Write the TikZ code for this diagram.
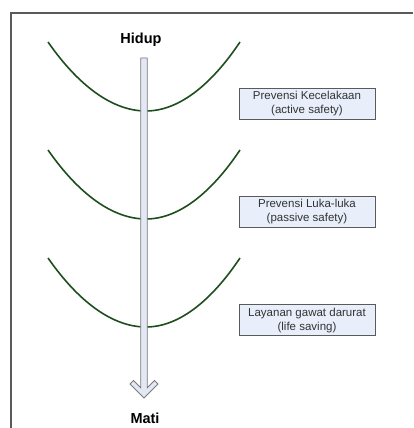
\documentclass[tikz,border=0pt]{standalone}
\usepackage{fontspec}
\setmainfont{Liberation Sans}
\usetikzlibrary{positioning}

\definecolor{curvegreen}{RGB}{30,78,30}
\definecolor{boxfill}{RGB}{232,238,250}
\definecolor{arrowfill}{RGB}{226,232,244}
\definecolor{framegray}{RGB}{90,90,90}

\tikzset{
    levelbox/.style={draw=framegray, fill=boxfill, line width=0.9pt, minimum width=136pt,
        minimum height=31pt, align=center, text=black!80, inner sep=0pt,
        font=\fontsize{11.5}{14}\selectfont},
    endlabel/.style={font=\fontsize{14.5}{16}\selectfont\bfseries, inner sep=0pt},
    levelcurve/.style={draw=curvegreen, line width=1.6pt}
}

\begin{document}
\begin{tikzpicture}[x=1pt, y=-1pt]
\useasboundingbox (0,0) rectangle (413,428);
% frame
\draw[framegray, line width=1.2pt] (413,13) -- (11,13) -- (11,428);

% curves and boxes, one per level
\foreach \upper/\lower [count=\i from 0] in {
    Prevensi Kecelakaan/(active safety),
    Prevensi Luka-luka/(passive safety),
    Layanan gawat darurat/(life saving)
} {
    \pgfmathsetmacro{\yend}{42+108*\i}
    \pgfmathsetmacro{\ymin}{111+108*\i}
    \pgfmathsetmacro{\ybox}{103.5+108.3*\i}
    \draw[levelcurve] (48,\yend) parabola bend (146,\ymin) (240,\yend);
    \node[levelbox] (box\i) at (307,\ybox) {\upper\\\lower};
}

% big arrow
\node[endlabel] (hidup) at (141,40) {Hidup};
\node[endlabel] (mati) at (145,418) {Mati};
\coordinate (top) at (144,58);
\coordinate (tip) at (144,398);
\draw[framegray!80, fill=arrowfill, line width=0.8pt, line join=miter]
    (140.7,58) -- (147.3,58) -- (147.3,387.7) -- (154.5,380.5) -- (158,384)
    -- (tip) -- (130,384) -- (133.5,380.5) -- (140.7,387.7) -- cycle;
\end{tikzpicture}
\end{document}
